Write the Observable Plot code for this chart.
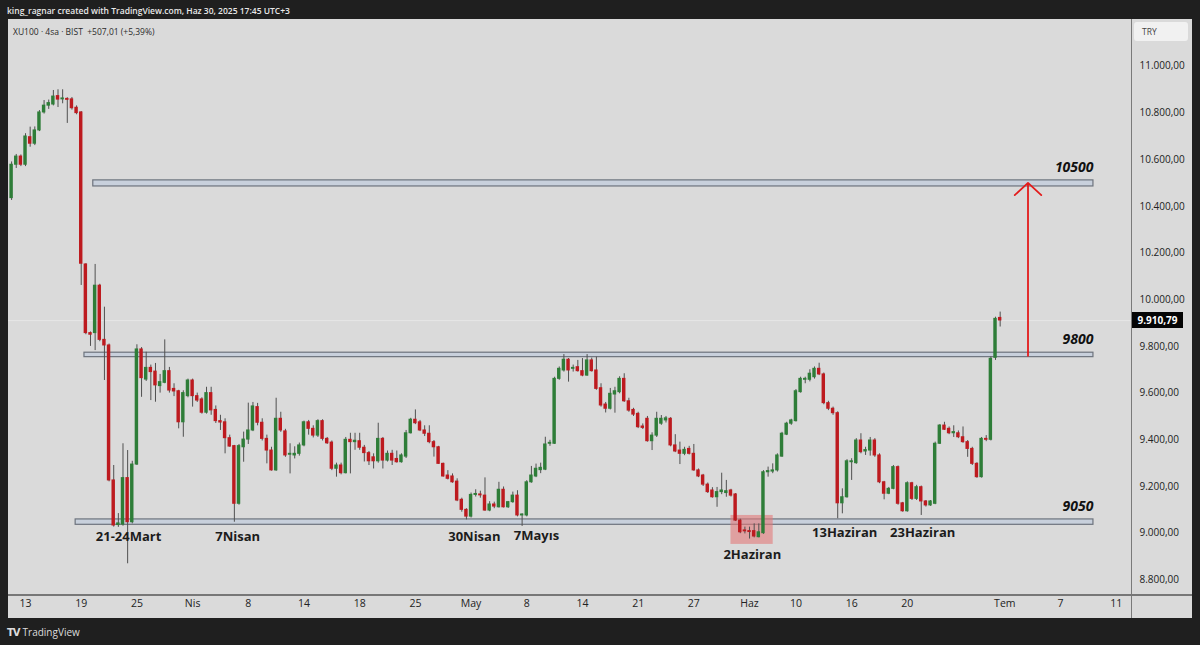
<!DOCTYPE html>
<html>
<head>
<meta charset="utf-8">
<script src="https://cdn.jsdelivr.net/npm/d3@7"></script>
<script src="https://cdn.jsdelivr.net/npm/@observablehq/plot@0.6"></script>
<style>
  html, body { margin: 0; padding: 0; background: #1f1f1f; }
  #wrap { position: relative; width: 1200px; height: 645px; overflow: hidden; background: #1f1f1f; font-family: "Open Sans", "Noto Sans", sans-serif; }
  #panel { position: absolute; left: 8px; top: 19px; width: 1184px; height: 599px; background: #dadada; }
  #topline { position: absolute; left: 7px; top: 5px; color: #e8e8e8; font-size: 8.5px; font-weight: 600; white-space: pre; }
  #sym { position: absolute; left: 13px; top: 26px; color: #2a2a2a; font-size: 8.5px; white-space: pre; }
  #try { position: absolute; left: 1134px; top: 22px; width: 54px; height: 19px; background: #f1f1f1; border-radius: 3px; color: #444; font-size: 8.5px; line-height: 19px; padding-left: 8px; box-sizing: border-box; }
  #vsep { position: absolute; left: 1131px; top: 19px; width: 1px; height: 599px; background: #7a7a7a; }
  #hsep { position: absolute; left: 8px; top: 594px; width: 1184px; height: 2px; background: #777; }
  #foot { position: absolute; left: 7px; top: 625px; color: #dcdcdc; font-size: 10px; white-space: pre; }
  #foot b { font-family: "DejaVu Sans", sans-serif; font-weight: 900; font-size: 10px; letter-spacing: -1px; margin-right: 3px; }
  #plot { position: absolute; left: 0; top: 0; }
  #lastlab { position: absolute; left: 1132px; width: 51px; height: 16px; background: #050505; color: #fff; font-size: 10px; font-weight: 700; line-height: 16px; text-align: center; }
</style>
</head>
<body>
<div id="wrap">
  <div id="panel"></div>
  <div id="topline">king_ragnar created with TradingView.com, Haz 30, 2025 17:45 UTC+3</div>
  <div id="sym">XU100 · 4sa · BIST  +507,01 (+5,39%)</div>
  <div id="vsep"></div>
  <div id="hsep"></div>
  <div id="plot"></div>
  <div id="try">TRY</div>
  <div id="lastlab">9.910,79</div>
  <div id="foot"><b>TV</b>TradingView</div>
</div>
<script>
// ---- data: XU100 4h candles (bar index order) ----
const opens = [10435,10578,10613,10578,10696,10668,10725,10802,10831,10836,
 10872,10858,10860,10858,10822,10802,10151,9857,9857,10060,
 9828,9804,9226,9035,9037,9236,9047,9294,9787,9658,
 9708,9692,9630,9644,9694,9618,9608,9475,9587,9654,
 9587,9573,9516,9600,9528,9480,9475,9407,9373,9126,
 9368,9401,9440,9540,9473,9404,9354,9269,9490,9436,
 9336,9333,9340,9376,9475,9447,9418,9480,9404,9388,
 9276,9290,9257,9400,9390,9394,9366,9343,9325,9308,
 9404,9311,9340,9318,9304,9328,9428,9486,9475,9440,
 9426,9390,9368,9297,9247,9243,9221,9143,9100,9071,
 9164,9166,9161,9097,9123,9111,9186,9111,9133,9161,
 9076,9076,9218,9243,9270,9272,9383,9383,9661,9697,
 9743,9704,9711,9694,9675,9740,9697,9621,9551,9533,
 9594,9604,9661,9565,9528,9511,9457,9490,9394,9418,
 9469,9483,9490,9376,9354,9340,9361,9340,9269,9247,
 9208,9183,9154,9176,9172,9183,9166,9054,9012,9009,
 9009,8983,9000,9261,9264,9269,9328,9422,9469,9480,
 9604,9657,9657,9668,9704,9680,9557,9533,9514,9128,
 9154,9304,9300,9397,9350,9354,9397,9333,9218,9169,
 9190,9283,9128,9094,9214,9147,9197,9136,9119,9126,
 9383,9461,9447,9428,9428,9411,9390,9361,9297,9240,
 9404,9400,9751,9922];
const highs = [10590,10622,10620,10711,10739,10740,10810,10853,10855,10896,
 10899,10899,10865,10866,10830,10806,10154,9862,10151,10066,
 9968,9810,9290,9084,9383,9354,9308,9807,9795,9775,
 9720,9727,9680,9828,9710,9640,9612,9610,9660,9660,
 9600,9580,9625,9625,9545,9505,9490,9420,9376,9380,
 9433,9557,9560,9556,9490,9420,9368,9578,9518,9445,
 9383,9370,9386,9480,9483,9460,9486,9486,9410,9395,
 9300,9300,9410,9428,9428,9428,9376,9350,9340,9471,
 9410,9352,9355,9352,9340,9440,9492,9528,9483,9460,
 9460,9397,9372,9300,9268,9254,9233,9150,9105,9172,
 9186,9180,9237,9135,9133,9218,9198,9136,9176,9182,
 9083,9225,9286,9296,9300,9411,9398,9668,9712,9765,
 9748,9720,9740,9748,9765,9750,9754,9640,9560,9620,
 9625,9670,9683,9578,9535,9518,9468,9500,9430,9518,
 9504,9500,9495,9422,9390,9368,9372,9380,9275,9252,
 9215,9195,9196,9257,9226,9188,9170,9060,9026,9026,
 9040,9040,9268,9283,9297,9340,9432,9475,9488,9615,
 9668,9668,9700,9712,9728,9686,9565,9540,9520,9190,
 9315,9319,9405,9426,9368,9410,9405,9340,9222,9196,
 9290,9288,9132,9220,9218,9205,9202,9140,9140,9390,
 9465,9475,9455,9460,9438,9455,9397,9368,9302,9410,
 9418,9755,9925,9947];
const lows = [10425,10562,10570,10570,10653,10660,10720,10795,10815,10830,
 10823,10839,10755,10812,10792,10061,9850,9800,9782,9820,
 9654,9220,9026,9025,9030,8869,9040,9290,9582,9650,
 9568,9561,9600,9640,9600,9585,9447,9411,9580,9540,
 9560,9510,9510,9505,9470,9440,9340,9368,9047,9120,
 9304,9380,9435,9460,9395,9297,9266,9265,9432,9325,
 9254,9318,9330,9370,9420,9408,9410,9395,9380,9268,
 9240,9250,9254,9254,9355,9355,9305,9290,9275,9300,
 9275,9305,9290,9300,9300,9320,9425,9465,9435,9414,
 9383,9326,9295,9240,9228,9214,9135,9090,9057,9065,
 9155,9150,9094,9092,9105,9108,9108,9106,9128,9070,
 9029,9070,9214,9238,9255,9268,9372,9380,9655,9690,
 9647,9690,9690,9670,9672,9690,9612,9540,9515,9528,
 9514,9597,9560,9518,9500,9448,9444,9390,9354,9410,
 9462,9472,9370,9345,9294,9332,9335,9265,9238,9200,
 9170,9150,9111,9165,9154,9155,9050,8998,8997,8975,
 8980,8980,8995,9240,9255,9262,9325,9418,9462,9476,
 9600,9640,9648,9660,9675,9550,9525,9505,9062,9083,
 9150,9226,9295,9340,9333,9330,9325,9212,9143,9165,
 9186,9120,9090,9090,9140,9140,9076,9112,9115,9122,
 9380,9440,9422,9410,9405,9385,9325,9290,9235,9236,
 9392,9395,9740,9883];
const closes = [10578,10613,10578,10699,10668,10725,10802,10831,10842,10870,
 10857,10862,10856,10820,10799,10154,9857,9850,10060,9828,
 9804,9226,9033,9042,9236,9047,9294,9787,9664,9708,
 9690,9633,9647,9694,9611,9607,9475,9600,9654,9587,
 9568,9516,9600,9526,9480,9474,9407,9371,9126,9373,
 9401,9440,9543,9473,9404,9354,9269,9490,9440,9333,
 9340,9340,9376,9475,9447,9418,9480,9404,9385,9276,
 9290,9257,9400,9390,9396,9366,9343,9308,9308,9404,
 9311,9340,9311,9304,9333,9428,9486,9471,9440,9426,
 9390,9368,9297,9243,9233,9218,9140,9100,9071,9164,
 9168,9162,9097,9123,9114,9186,9111,9133,9161,9076,
 9080,9218,9247,9276,9280,9380,9387,9661,9704,9743,
 9697,9708,9694,9675,9740,9694,9618,9547,9533,9597,
 9608,9661,9565,9525,9508,9454,9451,9394,9418,9490,
 9490,9492,9376,9350,9340,9357,9340,9269,9243,9208,
 9176,9154,9176,9183,9180,9161,9054,9004,9008,9005,
 8986,9004,9261,9266,9269,9333,9426,9469,9483,9608,
 9661,9661,9683,9704,9680,9557,9533,9514,9128,9154,
 9308,9308,9397,9347,9356,9397,9333,9218,9169,9190,
 9283,9126,9094,9214,9147,9197,9136,9119,9136,9383,
 9461,9443,9428,9433,9411,9390,9361,9297,9240,9404,
 9400,9747,9918,9911];
const lastPrice = 9910.79;

// time axis (bar index of each labelled session) and labels
const tickIndex = [3,15,27,39,51,63,75,87,99,111,123,135,147,159,169,181,193,214,226,238];
const tickLabels = ["13","19","25","Nis","8","14","18","25","May","8","14","21","27","Haz","10","16","20","Tem","7","11"];
const monthLabels = ["Nis","May","Haz","Tem"];

// price axis ticks
const priceTicks = [8800,9000,9200,9400,9600,9800,10000,10200,10400,10600,10800,11000];

// drawn zones (bar index start/end, price low/high) and their labels
const zoneLabels = ["10500","9800","9050"];
const zoneStart = [17.6, 15.7, 13.8];
const zoneEnd = [233.1, 233.1, 233.1];
const zoneLow = [10485, 9754, 9036];
const zoneHigh = [10511, 9773, 9059];

// highlighted 2 Haziran area
const boxStart = [155], boxEnd = [164.1], boxLow = [8952], boxHigh = [9076];

// target arrow
const arrowIndex = [219], arrowFrom = [9760], arrowTo = [10500];

// date notes
const noteText = ["21-24Mart","7Nisan","30Nisan","7Mayıs","2Haziran","13Haziran","23Haziran"];
const noteIndex = [25.2, 48.7, 99.7, 113.1, 159.6, 179.5, 196.3];
const notePrice = [8983, 8983, 8986, 8988, 8909, 9000, 9000];

// ---- build tables ----
const candles = opens.map((o, i) => ({i, o, h: highs[i], l: lows[i], c: closes[i]}));
const ticks = tickIndex.map((x, k) => ({x, label: tickLabels[k]}));
const zones = zoneLabels.map((label, k) => ({label, x1: zoneStart[k], x2: zoneEnd[k], lo: zoneLow[k], hi: zoneHigh[k]}));
const boxes = boxStart.map((x1, k) => ({x1, x2: boxEnd[k], lo: boxLow[k], hi: boxHigh[k]}));
const arrows = arrowIndex.map((x, k) => ({x, y1: arrowFrom[k], y2: arrowTo[k]}));
const notes = noteText.map((t, k) => ({t, x: noteIndex[k], y: notePrice[k]}));

const trLocale = d3.formatLocale({decimal: ",", thousands: ".", grouping: [3], currency: ["", ""]});
const fmt = trLocale.format(",.2f");

const GREEN = "#2e7d38", RED = "#bd1a1f";

const chart = Plot.plot({
  width: 1200,
  height: 645,
  marginLeft: 8,
  marginRight: 69,
  marginTop: 19,
  marginBottom: 51,
  style: {background: "transparent", fontFamily: "'Open Sans', 'Noto Sans', sans-serif", color: "#222", overflow: "visible"},
  x: {type: "linear", domain: [-0.668, 241.3], axis: null},
  y: {type: "linear", domain: [8737.5, 11200], axis: null},
  marks: [
    Plot.ruleY([lastPrice], {stroke: "#e6e6e6", strokeWidth: 1}),
    Plot.rect(zones, {x1: "x1", x2: "x2", y1: "lo", y2: "hi", fill: "#c8d0dc", stroke: "#6d737d", strokeWidth: 1.2}),
    Plot.rect(boxes, {x1: "x1", x2: "x2", y1: "lo", y2: "hi", fill: "#e27a7a", fillOpacity: 0.6}),
    Plot.ruleX(candles, {x: "i", y1: "l", y2: "h", stroke: "#505050", strokeWidth: 1}),
    Plot.rect(candles, {
      x1: d => d.i - 0.37, x2: d => d.i + 0.37, y1: "o", y2: "c",
      fill: d => d.c >= d.o ? GREEN : RED,
      insetTop: -0.5, insetBottom: -0.5
    }),
    Plot.arrow(arrows, {x1: "x", x2: "x", y1: "y1", y2: "y2", stroke: "#e31b1b", strokeWidth: 1.8, headAngle: 95, headLength: 15}),
    Plot.text(zones, {x: "x2", y: "hi", text: "label", textAnchor: "end", dy: -13, fontSize: 14, fontWeight: 700, fontStyle: "italic", fill: "#111"}),
    Plot.text(notes, {x: "x", y: "y", text: "t", fontSize: 13, fontWeight: 700, fill: "#1c1c1c"}),
    Plot.text(ticks, {x: "x", frameAnchor: "bottom", dy: 12, text: "label", fontSize: 10.5, fill: "#222",
      fontWeight: d => monthLabels.includes(d.label) ? 700 : 400}),
    Plot.axisY({anchor: "right", ticks: priceTicks, tickFormat: fmt, tickSize: 0, tickPadding: 8, fontSize: 10, color: "#222"})
  ]
});
document.getElementById("plot").appendChild(chart);

const yPix = chart.scale("y").apply(lastPrice);
document.getElementById("lastlab").style.top = (yPix - 8) + "px";
</script>
</body>
</html>
